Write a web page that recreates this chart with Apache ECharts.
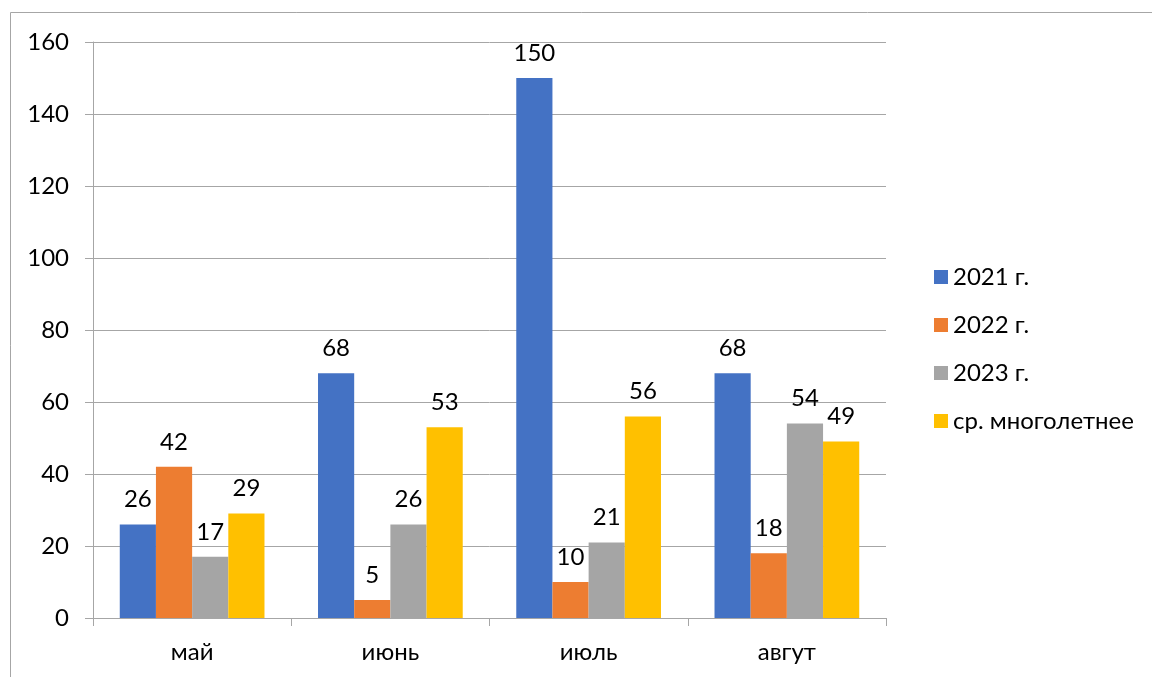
<!DOCTYPE html>
<html>
<head>
<meta charset="utf-8">
<script src="https://cdn.jsdelivr.net/npm/echarts@6/dist/echarts.min.js"></script>
<style>
html, body { margin: 0; padding: 0; background: #ffffff; }
#chart { width: 1152px; height: 677px; }
</style>
</head>
<body>
<div id="chart"></div>
<script>
// Monthly values by year, plus the long-term average
const months = ['май', 'июнь', 'июль', 'авгут'];
const seriesNames = ['2021 г.', '2022 г.', '2023 г.', 'ср. многолетнее'];
const values2021 = [26, 68, 150, 68];
const values2022 = [42, 5, 10, 18];
const values2023 = [17, 26, 21, 54];
const valuesAvg = [29, 53, 56, 49];
const colors = ['#4472C4', '#ED7D31', '#A5A5A5', '#FFC000'];

const FONT = 'Lato, "Open Sans", sans-serif';
const FS = 24;

const chart = echarts.init(document.getElementById('chart'), null, { renderer: 'canvas' });

const dataSets = [values2021, values2022, values2023, valuesAvg];

chart.setOption({
  backgroundColor: '#ffffff',
  animation: false,
  graphic: [{
    type: 'rect',
    shape: { x: 10.5, y: 12.5, width: 1300, height: 800 },
    style: { fill: 'none', stroke: '#A6A6A6', lineWidth: 1 },
    silent: true
  }],
  legend: {
    orient: 'vertical',
    left: 929,
    top: 260,
    itemWidth: 14,
    itemHeight: 14,
    itemGap: 24,
    icon: 'rect',
    textStyle: { fontFamily: FONT, fontSize: FS, color: '#000000', padding: [0, 0, 0, 0] },
    data: seriesNames
  },
  grid: { left: 93, right: 266, top: 42, bottom: 59, containLabel: false },
  xAxis: {
    type: 'category',
    data: months,
    axisLine: { show: true, lineStyle: { color: '#A6A6A6', width: 1 } },
    axisTick: { show: true, length: 8, alignWithLabel: false, lineStyle: { color: '#A6A6A6' } },
    axisLabel: { fontFamily: FONT, fontSize: FS, color: '#000000', margin: 22 },
    splitLine: { show: false }
  },
  yAxis: {
    type: 'value',
    min: 0,
    max: 160,
    interval: 20,
    axisLine: { show: true, lineStyle: { color: '#A6A6A6', width: 1 } },
    axisTick: { show: true, length: 8, lineStyle: { color: '#A6A6A6' } },
    axisLabel: { fontFamily: FONT, fontSize: FS, color: '#000000', margin: 24 },
    splitLine: { show: true, lineStyle: { color: '#A6A6A6', width: 1 } }
  },
  series: seriesNames.map((name, i) => ({
    name: name,
    type: 'bar',
    data: dataSets[i],
    barGap: '0%',
    barCategoryGap: '27%',
    itemStyle: { color: colors[i] },
    label: {
      show: true,
      position: 'top',
      distance: 13,
      fontFamily: FONT,
      fontSize: FS,
      color: '#000000'
    }
  }))
});
</script>
</body>
</html>
